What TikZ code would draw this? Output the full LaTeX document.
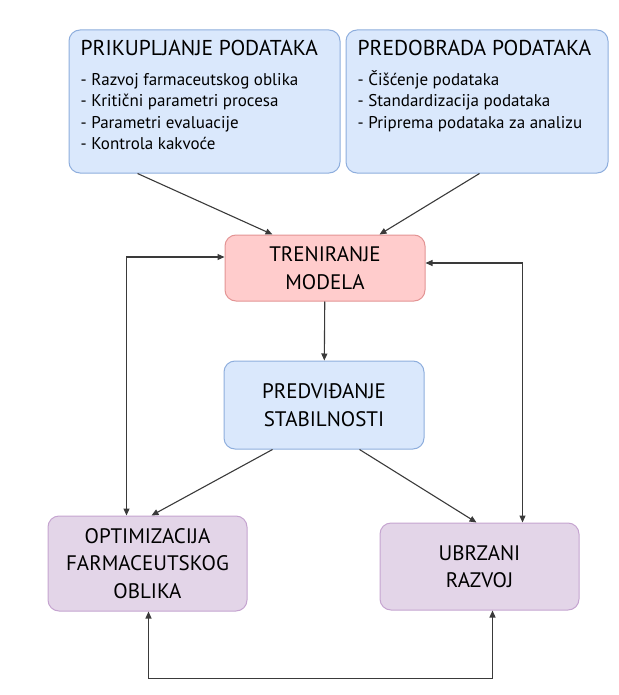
\documentclass[tikz,border=0pt]{standalone}
\usepackage{fontspec}
\setmainfont{PT Sans}
\usepackage{xcolor}
\usetikzlibrary{arrows.meta,calc,positioning}
\definecolor{bluefill}{HTML}{DAE8FC}
\definecolor{blueline}{HTML}{8EAEDD}
\definecolor{redfill}{HTML}{FFCCCC}
\definecolor{redline}{HTML}{E39494}
\definecolor{purplefill}{HTML}{E3D5E8}
\definecolor{purpleline}{HTML}{C5A4D0}
\definecolor{wire}{HTML}{3A3A3A}
\begin{document}
\begin{tikzpicture}[x=1pt,y=-1pt,
  box/.style={draw,rounded corners=11pt,line width=1pt,inner sep=0pt,align=center,
    font=\fontsize{21}{27.5}\selectfont},
  databox/.style={box,fill=bluefill,draw=blueline,minimum width=#1,minimum height=143pt},
  boxtxt/.style={anchor=north west,inner sep=0pt,align=left,font=\fontsize{17}{21.5}\selectfont},
  flow/.style={wire,line width=1.1pt,-{Triangle[length=7pt,width=6pt]}},
  twoway/.style={wire,line width=1.1pt,{Triangle[length=7pt,width=6pt]}-{Triangle[length=7pt,width=6pt]}}]
\useasboundingbox (0,0) rectangle (618,695);
\node[databox=271pt] (collect) at (204.5,101.5) {};
\node[boxtxt] (collecttxt) at ([xshift=12pt,yshift=-10pt]collect.north west)
  {{\fontsize{21.5}{21.5}\selectfont PRIKUPLJANJE PODATAKA}\\[8.5pt]- Razvoj farmaceutskog oblika\\- Kritični parametri procesa\\- Parametri evaluacije\\- Kontrola kakvoće};
\node[databox=262pt] (prep) at (477,101.5) {};
\node[boxtxt] (preptxt) at ([xshift=12pt,yshift=-10pt]prep.north west)
  {{\fontsize{21.5}{21.5}\selectfont PREDOBRADA PODATAKA}\\[8.5pt]- Čišćenje podataka\\- Standardizacija podataka\\- Priprema podataka za analizu};
\node[box,fill=redfill,draw=redline,minimum width=200pt,minimum height=66pt] (train) at (325,268) {TRENIRANJE\\MODELA};
\node[box,fill=bluefill,draw=blueline,minimum width=200pt,minimum height=88pt] (predict) at (324,405) {PREDVIĐANJE\\STABILNOSTI};
\node[box,fill=purplefill,draw=purpleline,minimum width=199pt,minimum height=95pt] (optim) at (147.5,563.5) {OPTIMIZACIJA\\FARMACEUTSKOG\\OBLIKA};
\node[box,fill=purplefill,draw=purpleline,minimum width=199pt,minimum height=87pt] (speed) at (479.5,566.5) {UBRZANI\\RAZVOJ};
\draw[flow] ([xshift=69pt]collect.south west) -- ([xshift=48pt]train.north west);
\draw[flow] ([xshift=134pt]prep.south west) -- ([xshift=155pt]train.north west);
\draw[flow] (train) -- (predict);
\draw[flow] ([xshift=49pt]predict.south west) -- ([xshift=104pt]optim.north west);
\draw[flow] ([xshift=136pt]predict.south west) -- ([xshift=97pt]speed.north west);
\draw[twoway] ([yshift=11pt]train.west) -| ([xshift=79pt]optim.north west);
\draw[twoway] ([yshift=5pt]train.east) -| ([xshift=143pt]speed.north west);
\draw[twoway] ([xshift=101pt]optim.south west) -- ++(0,67) -| ([xshift=113pt]speed.south west);
\end{tikzpicture}
\end{document}
